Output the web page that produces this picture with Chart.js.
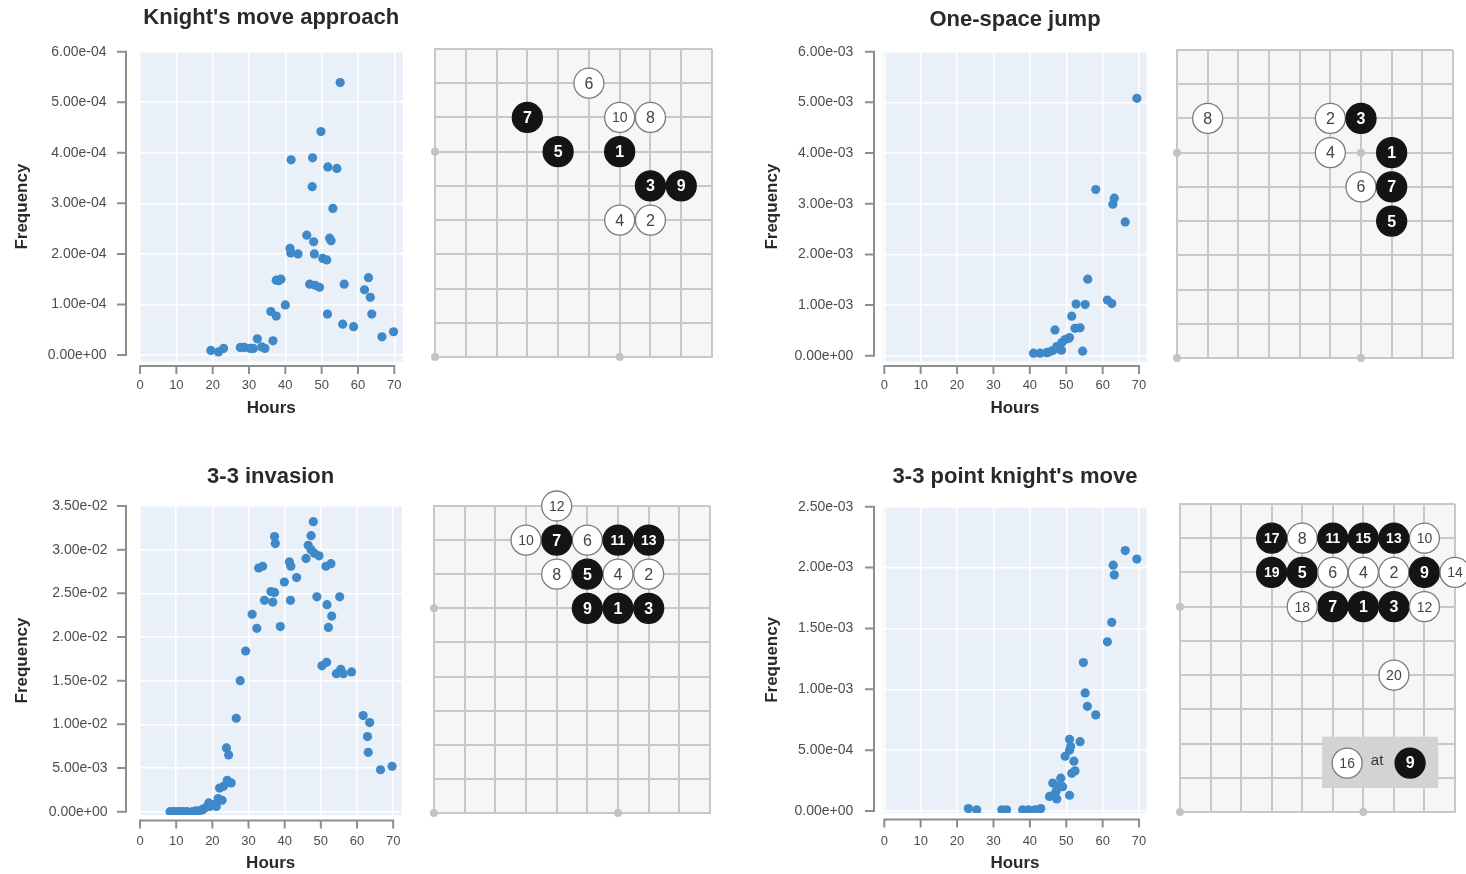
<!DOCTYPE html>
<html><head><meta charset="utf-8">
<script src="https://cdn.jsdelivr.net/npm/chart.js@4.4.0/dist/chart.umd.min.js"></script>
<style>
html,body{margin:0;padding:0;background:#fff;width:1466px;height:874px;overflow:hidden;position:relative}
canvas{position:absolute}
</style></head><body>
<script>
// ---------------- data ----------------
const hourTicks = [0, 10, 20, 30, 40, 50, 60, 70];

const knightTitle = "Knight's move approach";
const knightHours = [19.5,21.6,23.0,27.6,28.7,30.3,31.2,32.3,33.5,34.4,36.6,36.0,37.5,37.5,38.2,38.8,40.0,41.3,41.5,43.5,41.6,45.9,47.5,47.4,47.8,48.0,46.7,48.2,49.4,49.8,50.3,51.4,51.6,51.7,54.2,52.2,52.6,53.1,55.1,56.2,55.8,58.8,61.8,62.9,63.4,63.8,66.6,69.8];
const knightFreq  = [0.09e-4,0.06e-4,0.13e-4,0.15e-4,0.15e-4,0.13e-4,0.13e-4,0.32e-4,0.16e-4,0.13e-4,0.28e-4,0.86e-4,0.77e-4,1.48e-4,1.47e-4,1.50e-4,0.99e-4,2.11e-4,2.02e-4,2.00e-4,3.86e-4,2.37e-4,3.90e-4,3.33e-4,2.24e-4,2.00e-4,1.40e-4,1.38e-4,1.34e-4,4.42e-4,1.91e-4,1.88e-4,0.81e-4,3.72e-4,3.69e-4,2.31e-4,2.26e-4,2.90e-4,5.39e-4,1.40e-4,0.61e-4,0.56e-4,1.29e-4,1.53e-4,1.14e-4,0.81e-4,0.36e-4,0.46e-4];
const knightYTicks = [0, 1e-4, 2e-4, 3e-4, 4e-4, 5e-4, 6e-4];

const jumpTitle = "One-space jump";
const jumpHours = [41.0,42.8,44.6,45.1,46.2,47.4,47.8,48.3,48.7,48.8,49.7,50.6,50.9,46.9,52.4,53.8,51.5,52.7,55.2,55.9,54.5,61.3,62.5,58.1,63.2,62.8,66.2,69.4];
const jumpFreq  = [0.05e-3,0.05e-3,0.06e-3,0.07e-3,0.10e-3,0.18e-3,0.14e-3,0.13e-3,0.11e-3,0.26e-3,0.32e-3,0.34e-3,0.36e-3,0.51e-3,0.54e-3,0.55e-3,0.78e-3,1.02e-3,1.01e-3,1.51e-3,0.09e-3,1.10e-3,1.03e-3,3.28e-3,3.11e-3,2.99e-3,2.64e-3,5.08e-3];
const jumpYTicks = [0, 1e-3, 2e-3, 3e-3, 4e-3, 5e-3, 6e-3];

const invasionTitle = "3-3 invasion";
const invasionHours = [8.3,9.2,10.1,11.0,12.0,13.0,14.5,15.4,16.3,17.2,17.4,18.3,19.3,20.2,21.1,19.0,21.6,22.7,22.0,23.1,24.1,25.2,23.9,24.5,26.6,27.7,29.2,31.0,32.3,32.8,33.9,34.4,36.2,37.2,36.7,37.2,37.4,38.8,39.9,41.3,41.7,41.6,43.3,45.9,46.5,47.3,47.9,47.3,48.2,49.5,48.9,50.3,51.6,51.4,52.8,51.7,53.0,52.1,54.3,55.2,55.5,56.2,58.5,61.7,63.5,62.9,63.1,66.5,69.7];
const invasionFreq  = [0.0e-2,0.0e-2,0.0e-2,0.0e-2,0.0e-2,0.0e-2,0.0e-2,0.01e-2,0.01e-2,0.02e-2,0.03e-2,0.05e-2,0.06e-2,0.08e-2,0.06e-2,0.10e-2,0.15e-2,0.13e-2,0.27e-2,0.29e-2,0.36e-2,0.33e-2,0.73e-2,0.65e-2,1.07e-2,1.50e-2,1.84e-2,2.26e-2,2.10e-2,2.79e-2,2.81e-2,2.42e-2,2.52e-2,2.51e-2,2.40e-2,3.15e-2,3.07e-2,2.12e-2,2.63e-2,2.86e-2,2.81e-2,2.42e-2,2.68e-2,2.90e-2,3.05e-2,3.16e-2,3.32e-2,3.00e-2,2.96e-2,2.93e-2,2.46e-2,1.67e-2,1.71e-2,2.81e-2,2.84e-2,2.37e-2,2.24e-2,2.11e-2,1.58e-2,2.46e-2,1.63e-2,1.58e-2,1.60e-2,1.10e-2,1.02e-2,0.86e-2,0.68e-2,0.48e-2,0.52e-2];
const invasionYTicks = [0, 5e-3, 1e-2, 1.5e-2, 2e-2, 2.5e-2, 3e-2, 3.5e-2];

const pointKnightTitle = "3-3 point knight's move";
const pointKnightHours = [23.1,25.4,32.3,33.6,38.0,39.6,41.4,43.0,45.4,47.4,47.2,46.3,46.5,47.8,49.0,48.5,50.9,51.5,52.4,52.1,49.7,50.9,51.2,50.9,53.8,55.8,55.2,58.1,54.7,61.3,62.5,63.2,62.9,66.2,69.4];
const pointKnightFreq  = [0.02e-3,0.01e-3,0.01e-3,0.01e-3,0.01e-3,0.01e-3,0.01e-3,0.02e-3,0.12e-3,0.10e-3,0.16e-3,0.23e-3,0.13e-3,0.20e-3,0.20e-3,0.27e-3,0.13e-3,0.31e-3,0.33e-3,0.41e-3,0.45e-3,0.50e-3,0.53e-3,0.59e-3,0.57e-3,0.86e-3,0.97e-3,0.79e-3,1.22e-3,1.39e-3,1.55e-3,1.94e-3,2.02e-3,2.14e-3,2.07e-3];
const pointKnightYTicks = [0, 5e-4, 1e-3, 1.5e-3, 2e-3, 2.5e-3];

// Go diagrams: move number, column (0-9 from left), row (0-9 from top)
const knightMoves = [1,2,3,4,5,6,7,8,9,10];
const knightCols  = [6,7,7,6,4,5,3,7,8,6];
const knightRows  = [3,5,4,5,3,1,2,2,4,2];

const jumpMoves = [1,2,3,4,5,6,7,8];
const jumpCols  = [7,5,6,5,7,6,7,1];
const jumpRows  = [3,2,2,3,5,4,4,2];

const invasionMoves = [1,2,3,4,5,6,7,8,9,10,11,12,13];
const invasionCols  = [6,7,7,6,5,5,4,4,5,3,6,4,7];
const invasionRows  = [3,2,3,2,2,1,1,2,3,1,1,0,1];

const pointKnightMoves = [1,2,3,4,5,6,7,8,9,10,11,12,13,14,15,17,18,19,20];
const pointKnightCols  = [6,7,7,6,4,5,5,4,8,8,5,8,7,9,6,3,4,3,7];
const pointKnightRows  = [3,2,3,2,2,2,3,1,2,1,1,3,1,2,1,1,3,2,5];

const starCols = [0, 6, 0, 6];
const starRows = [3, 3, 9, 9];

// "16 at 9" note
const noteMoves = [16, 9];
const noteCols  = [5.47, 7.53];
const noteRows  = [7.57, 7.57];
const noteText  = "at";
const noteTextPos = [6.45, 7.5];
const noteBox = [4.65, 6.8, 8.45, 8.3];

// ---------------- helpers ----------------
const FONT = "'Liberation Sans', Arial, Helvetica, sans-serif";
Chart.defaults.font.family = FONT;

function mkCanvas(left, top, w, h) {
  const c = document.createElement('canvas');
  c.width = w; c.height = h;
  c.style.left = left + 'px'; c.style.top = top + 'px';
  c.style.width = w + 'px'; c.style.height = h + 'px';
  document.body.appendChild(c);
  return c;
}
function fmtExp(v) {
  return Number(v).toExponential(2).replace(/e([+-])(\d)$/, 'e$10$2');
}

const plotBg = {
  id: 'plotBg',
  beforeDraw(chart, args, o) {
    if (!o || !o.color) return;
    const a = chart.chartArea, ctx = chart.ctx;
    ctx.save(); ctx.fillStyle = o.color;
    ctx.fillRect(a.left, a.top, a.right - a.left, a.bottom - a.top);
    ctx.restore();
  }
};

const offsetAxes = {
  id: 'offsetAxes',
  afterDraw(chart, args, o) {
    if (!o || !o.yTicks) return;
    const {ctx, chartArea: a} = chart;
    const x = chart.scales.x, y = chart.scales.y;
    ctx.save();
    ctx.strokeStyle = '#8e8e8e'; ctx.lineWidth = 2; ctx.lineCap = 'square';
    ctx.beginPath();
    const ax = a.left - o.gapY;
    const yt = o.yTicks;
    ctx.moveTo(ax, y.getPixelForValue(yt[0]));
    ctx.lineTo(ax, y.getPixelForValue(yt[yt.length - 1]));
    yt.forEach(v => { const p = y.getPixelForValue(v); ctx.moveTo(ax, p); ctx.lineTo(ax - 8, p); });
    const ay = a.bottom + o.gapX;
    const xt = o.xTicks;
    ctx.moveTo(x.getPixelForValue(xt[0]), ay);
    ctx.lineTo(x.getPixelForValue(xt[xt.length - 1]), ay);
    xt.forEach(v => { const p = x.getPixelForValue(v); ctx.moveTo(p, ay); ctx.lineTo(p, ay + 7); });
    ctx.stroke();
    ctx.restore();
  }
};

function scatterPanel(p) {
  const [bl, bt, bw, bh] = p.box;
  const [L, T, R, B] = p.area;
  const c = mkCanvas(bl, bt, bw, bh);
  const tSize = 22, tLH = tSize * 1.2;
  const tPadTop = p.titleY - bt - tLH / 2;
  const tPadBottom = (T - bt) - tPadTop - tLH;
  const aSize = 17, aLH = aSize * 1.2;
  new Chart(c, {
    type: 'scatter',
    data: { datasets: [{
      data: p.xs.map((x, i) => ({x: x, y: p.ys[i]})),
      pointRadius: 4.6, backgroundColor: '#3f89c8', borderWidth: 0
    }]},
    options: {
      responsive: false, animation: false, events: [],
      layout: { padding: { left: 0, top: 0, right: bl + bw - R, bottom: 0 } },
      plugins: {
        legend: { display: false }, tooltip: { enabled: false },
        title: { display: true, text: p.title, fullSize: false, color: '#2a2a2a',
                 font: { size: tSize, weight: 'bold' }, padding: { top: tPadTop, bottom: tPadBottom } },
        plotBg: { color: '#e9f0f8' },
        offsetAxes: { gapY: p.gapY, gapX: p.gapX, xTicks: hourTicks, yTicks: p.yTicks }
      },
      scales: {
        x: {
          type: 'linear', position: 'bottom', min: p.xMin, max: p.xMax,
          afterBuildTicks: s => { s.ticks = hourTicks.map(v => ({value: v})); },
          afterFit: s => { s.height = bt + bh - B; },
          ticks: { padding: p.xLabelPad, color: '#4d4d4d', font: { size: 13 }, autoSkip: false, maxRotation: 0 },
          grid: { color: '#ffffff', lineWidth: 1.5, drawTicks: false },
          border: { display: false },
          title: { display: true, text: 'Hours', color: '#2a2a2a', font: { size: aSize, weight: 'bold' },
                   padding: { top: 0, bottom: (bt + bh - p.xTitleY) - aLH / 2 } }
        },
        y: {
          type: 'linear', position: 'left', min: p.yMin, max: p.yMax,
          afterBuildTicks: s => { s.ticks = p.yTicks.map(v => ({value: v})); },
          afterFit: s => { s.width = L - bl; },
          ticks: { padding: p.yLabelPad, color: '#4d4d4d', font: { size: 14 }, callback: v => fmtExp(v) },
          grid: { color: '#ffffff', lineWidth: 1.5, drawTicks: false },
          border: { display: false },
          title: { display: true, text: 'Frequency', color: '#2a2a2a', font: { size: aSize, weight: 'bold' },
                   padding: { top: (p.yTitleX - bl) - aLH / 2, bottom: 0 } }
        }
      }
    },
    plugins: [plotBg, offsetAxes]
  });
}

const boardDeco = {
  id: 'boardDeco',
  beforeDraw(chart) {
    const a = chart.chartArea, ctx = chart.ctx;
    ctx.save(); ctx.fillStyle = '#f6f6f6';
    ctx.fillRect(a.left, a.top, a.right - a.left, a.bottom - a.top);
    ctx.restore();
  },
  beforeDatasetsDraw(chart, args, o) {
    if (!o || !o.box) return;
    const {ctx} = chart, x = chart.scales.x, y = chart.scales.y;
    const [c0, r0, c1, r1] = o.box;
    const px0 = x.getPixelForValue(c0), px1 = x.getPixelForValue(c1);
    const py0 = y.getPixelForValue(r0), py1 = y.getPixelForValue(r1);
    ctx.save(); ctx.fillStyle = '#d3d3d3';
    ctx.fillRect(px0, py0, px1 - px0, py1 - py0);
    ctx.restore();
  },
  afterDatasetsDraw(chart, args, o) {
    const ctx = chart.ctx;
    ctx.save();
    ctx.textAlign = 'center'; ctx.textBaseline = 'middle';
    chart.data.datasets.forEach((ds, di) => {
      if (!ds.moves) return;
      const meta = chart.getDatasetMeta(di);
      meta.data.forEach((el, i) => {
        const n = ds.moves[i];
        const black = n % 2 === 1;
        const two = n >= 10;
        ctx.font = (black ? 'bold ' : '') + (two ? '14px ' : '16px ') + FONT;
        ctx.fillStyle = black ? '#ffffff' : '#444444';
        ctx.fillText(String(n), el.x, el.y + 1);
      });
    });
    if (o && o.text) {
      const x = chart.scales.x, y = chart.scales.y;
      ctx.font = '15px ' + FONT; ctx.fillStyle = '#333';
      ctx.fillText(o.text, x.getPixelForValue(o.textPos[0]), y.getPixelForValue(o.textPos[1]));
    }
    ctx.restore();
  }
};

function stoneDataset(moves, cols, rows, r) {
  return {
    data: moves.map((n, i) => ({x: cols[i], y: rows[i]})),
    moves: moves,
    pointRadius: r,
    backgroundColor: moves.map(n => n % 2 === 1 ? '#141414' : '#ffffff'),
    borderColor: moves.map(n => n % 2 === 1 ? '#141414' : '#7a7a7a'),
    borderWidth: 1.3,
    clip: false
  };
}

function boardPanel(p) {
  const [L, T, R, B] = p.area;
  const m = 26;
  const c = mkCanvas(L - m, T - m, R - L + 2 * m, B - T + 2 * m);
  const datasets = [stoneDataset(p.moves, p.cols, p.rows, 15)];
  if (p.note) datasets.push(stoneDataset(p.note.moves, p.note.cols, p.note.rows, 15));
  datasets.push({
    data: starCols.map((x, i) => ({x: x, y: starRows[i]})),
    pointRadius: 4, backgroundColor: '#c3c3c3', borderWidth: 0, clip: false
  });
  const gridOpt = { color: '#c8c8c8', lineWidth: 2, drawTicks: false };
  new Chart(c, {
    type: 'scatter',
    data: { datasets: datasets },
    options: {
      responsive: false, animation: false, events: [],
      layout: { padding: m },
      plugins: {
        legend: { display: false }, tooltip: { enabled: false },
        boardDeco: p.note ? { box: p.note.box, text: p.note.text, textPos: p.note.textPos } : {}
      },
      scales: {
        x: { type: 'linear', min: 0, max: 9, ticks: { display: false, stepSize: 1 },
             grid: gridOpt, border: { display: true, color: '#c8c8c8', width: 2 },
             afterFit: s => { s.height = 0; } },
        y: { type: 'linear', min: 0, max: 9, reverse: true, ticks: { display: false, stepSize: 1 },
             grid: gridOpt, border: { display: true, color: '#c8c8c8', width: 2 },
             afterFit: s => { s.width = 0; } }
      }
    },
    plugins: [boardDeco]
  });
}

// ---------------- panels ----------------
scatterPanel({ title: knightTitle, xs: knightHours, ys: knightFreq, yTicks: knightYTicks,
  box: [0, 0, 420, 430], area: [139.5, 51.7, 403, 361.5],
  xMin: -0.15, xMax: 72.4, yMin: -1.29e-5, yMax: 6e-4,
  titleY: 18, gapY: 13.5, gapX: 4.5, yLabelPad: 33, xLabelPad: 15.7, xTitleY: 408, yTitleX: 22 });

scatterPanel({ title: jumpTitle, xs: jumpHours, ys: jumpFreq, yTicks: jumpYTicks,
  box: [750, 0, 420, 430], area: [883.3, 51.7, 1146.7, 361.5],
  xMin: -0.27, xMax: 72.1, yMin: -1.14e-4, yMax: 6e-3,
  titleY: 20, gapY: 9.3, gapX: 4.5, yLabelPad: 30, xLabelPad: 15.7, xTitleY: 408, yTitleX: 772 });

scatterPanel({ title: invasionTitle, xs: invasionHours, ys: invasionFreq, yTicks: invasionYTicks,
  box: [0, 440, 420, 434], area: [139.5, 506, 403, 815],
  xMin: -0.15, xMax: 72.4, yMin: -3.78e-4, yMax: 3.5e-2,
  titleY: 476.5, gapY: 13.5, gapX: 5.5, yLabelPad: 32, xLabelPad: 19, xTitleY: 863, yTitleX: 22 });

scatterPanel({ title: pointKnightTitle, xs: pointKnightHours, ys: pointKnightFreq, yTicks: pointKnightYTicks,
  box: [750, 440, 420, 434], area: [883.3, 506.7, 1146.7, 813],
  xMin: -0.27, xMax: 72.1, yMin: -1.6e-5, yMax: 2.5e-3,
  titleY: 477, gapY: 9.3, gapX: 6.5, yLabelPad: 30, xLabelPad: 21, xTitleY: 863, yTitleX: 772 });

boardPanel({ area: [435, 49, 712, 357], moves: knightMoves, cols: knightCols, rows: knightRows });
boardPanel({ area: [1176.7, 50, 1453, 358], moves: jumpMoves, cols: jumpCols, rows: jumpRows });
boardPanel({ area: [434, 506, 710, 813], moves: invasionMoves, cols: invasionCols, rows: invasionRows });
boardPanel({ area: [1180, 504, 1455, 812], moves: pointKnightMoves, cols: pointKnightCols, rows: pointKnightRows,
  note: { moves: noteMoves, cols: noteCols, rows: noteRows, box: noteBox, text: noteText, textPos: noteTextPos } });
</script>
</body></html>
